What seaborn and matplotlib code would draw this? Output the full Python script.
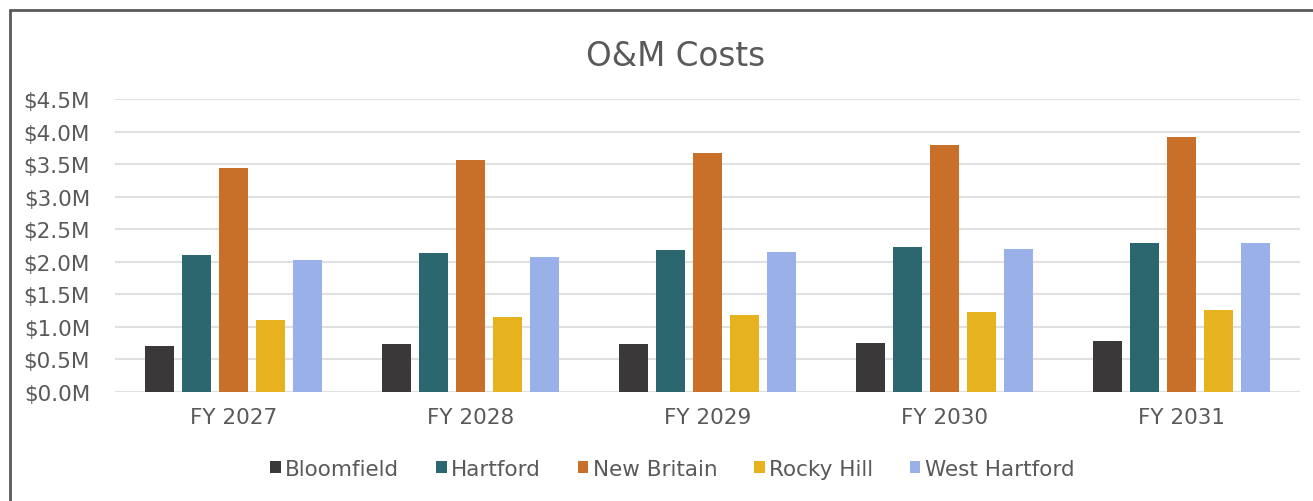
import pandas as pd
import seaborn as sns
import matplotlib.pyplot as plt
from matplotlib.lines import Line2D

years = ["FY 2027", "FY 2028", "FY 2029", "FY 2030", "FY 2031"]
districts = ["Bloomfield", "Hartford", "New Britain", "Rocky Hill", "West Hartford"]

# O&M costs in $M
bloomfield = [0.70, 0.73, 0.73, 0.75, 0.79]
hartford = [2.11, 2.14, 2.18, 2.23, 2.29]
new_britain = [3.44, 3.56, 3.67, 3.80, 3.92]
rocky_hill = [1.10, 1.15, 1.18, 1.23, 1.26]
west_hartford = [2.02, 2.08, 2.15, 2.20, 2.29]

colors = ["#3a3838", "#2c666e", "#c8702a", "#e6b31e", "#99b0e8"]
yticks = [0.0, 0.5, 1.0, 1.5, 2.0, 2.5, 3.0, 3.5, 4.0, 4.5]

text_color = "#595959"
grid_color = "#e0e0e0"

rows = []
for name, vals in zip(
    districts, [bloomfield, hartford, new_britain, rocky_hill, west_hartford]
):
    for yr, v in zip(years, vals):
        rows.append({"Year": yr, "District": name, "Cost": v})
df = pd.DataFrame(rows)

sns.set_style("white")
plt.rcParams["font.family"] = ["DejaVu Sans"]

fig = plt.figure(figsize=(13.13, 5.02), dpi=100)
ax = fig.add_axes([0.0876, 0.2171, 0.9024, 0.5837])

sns.barplot(
    data=df,
    x="Year",
    y="Cost",
    hue="District",
    hue_order=districts,
    order=years,
    palette=colors,
    width=0.78,
    gap=0.2,
    saturation=1,
    linewidth=0,
    ax=ax,
)

ax.set_ylim(0, 4.5)
ax.set_xlim(-0.5, 4.5)
ax.set_yticks(yticks)
ax.set_yticklabels([f"${t:.1f}M" for t in yticks])
ax.yaxis.grid(True, color=grid_color, linewidth=1.5)
ax.set_axisbelow(True)
for s in ax.spines.values():
    s.set_visible(False)
ax.tick_params(axis="both", length=0, labelsize=15.5, labelcolor=text_color)
ax.tick_params(axis="y", pad=18)
ax.tick_params(axis="x", pad=11)
ax.set_xlabel("")
ax.set_ylabel("")

fig.text(0.5145, 0.888, "O&M Costs", ha="center", va="center", fontsize=23.5,
         color=text_color)

handles, labels = ax.get_legend_handles_labels()
ax.legend_.remove()
fig.legend(
    handles,
    labels,
    loc="center",
    bbox_to_anchor=(0.512, 0.064),
    ncol=5,
    frameon=False,
    fontsize=15.5,
    labelcolor=text_color,
    handlelength=0.5,
    handleheight=0.5,
    handletextpad=0.2,
    columnspacing=1.7,
)

# chart frame: only the left and top edges fall inside the image
border = "#5a5a5a"
fig.add_artist(Line2D([10 / 1313, 10 / 1313], [0, 1 - 11 / 502],
                      transform=fig.transFigure, color=border, linewidth=2))
fig.add_artist(Line2D([10 / 1313, 1], [1 - 11 / 502, 1 - 11 / 502],
                      transform=fig.transFigure, color=border, linewidth=2))

fig.savefig("out.png", dpi=100, facecolor="white")
